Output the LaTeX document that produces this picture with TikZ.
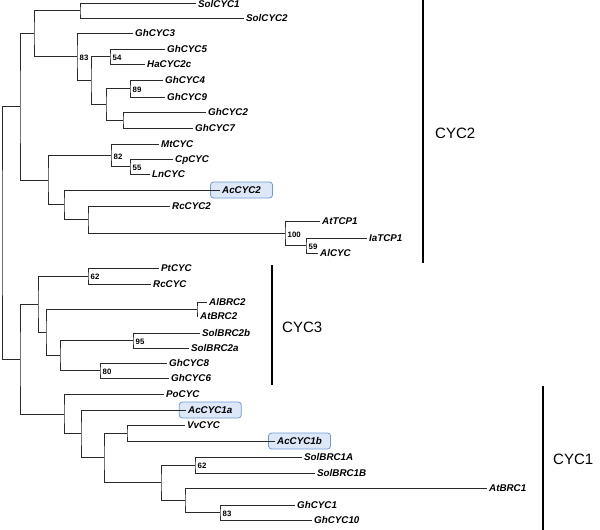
\documentclass[tikz,border=0pt]{standalone}
\usepackage{fontspec}
\setmainfont{Liberation Sans}
\usetikzlibrary{backgrounds}
\definecolor{hlfill}{HTML}{DCE8F7}
\definecolor{hldraw}{HTML}{6F9BD3}
\definecolor{brc}{HTML}{2A2A2A}
\tikzset{
 br/.style={draw=brc, line width=0.9pt},
 leaf/.style={anchor=west, inner sep=0pt, inner xsep=2pt, font=\fontsize{9.8}{10}\selectfont\bfseries\itshape, text height=7pt, text depth=0pt},
 boot/.style={anchor=west, inner sep=0pt, inner xsep=2.5pt, yshift=-1pt, font=\fontsize{7.8}{8}\selectfont\bfseries, text height=5.6pt, text depth=0pt},
 hl/.style={draw=hldraw, fill=hlfill, rounded corners=3pt, line width=0.8pt, minimum width=62pt, minimum height=16pt, inner sep=0pt},
 cladebar/.style={line width=2.7pt, draw=black},
 cladelbl/.style={anchor=west, font=\fontsize{15}{16}\selectfont, inner sep=0pt},
}
\begin{document}
\begin{tikzpicture}[x=1pt,y=-1pt]
\useasboundingbox (0,0) rectangle (600,530);
% leaves
\node[leaf] (l1) at (196,3.5) {SolCYC1};
\node[leaf] (l2) at (244,18) {SolCYC2};
\node[leaf] (l3) at (133,33) {GhCYC3};
\node[leaf] (l4) at (165,49) {GhCYC5};
\node[leaf] (l5) at (145,64) {HaCYC2c};
\node[leaf] (l6) at (163,80) {GhCYC4};
\node[leaf] (l7) at (165,97) {GhCYC9};
\node[leaf] (l8) at (206,112) {GhCYC2};
\node[leaf] (l9) at (193,128) {GhCYC7};
\node[leaf] (l10) at (159,144) {MtCYC};
\node[leaf] (l11) at (173,159) {CpCYC};
\node[leaf] (l12) at (150,174) {LnCYC};
\node[leaf] (l13) at (220,190) {AcCYC2};
\node[leaf] (l14) at (170,206) {RcCYC2};
\node[leaf] (l15) at (320,221) {AtTCP1};
\node[leaf] (l16) at (367,238) {IaTCP1};
\node[leaf] (l17) at (318,253) {AlCYC};
\node[leaf] (l18) at (159,268) {PtCYC};
\node[leaf] (l19) at (151,284) {RcCYC};
\node[leaf] (l20) at (207,302) {AlBRC2};
\node[leaf] (l21) at (198,316) {AtBRC2};
\node[leaf] (l22) at (200,333) {SolBRC2b};
\node[leaf] (l23) at (189,348) {SolBRC2a};
\node[leaf] (l24) at (167,363) {GhCYC8};
\node[leaf] (l25) at (169,378) {GhCYC6};
\node[leaf] (l26) at (164,394) {PoCYC};
\node[leaf] (l27) at (186,410) {AcCYC1a};
\node[leaf] (l28) at (185,425) {VvCYC};
\node[leaf] (l29) at (275,441) {AcCYC1b};
\node[leaf] (l30) at (302,457) {SolBRC1A};
\node[leaf] (l31) at (315,473) {SolBRC1B};
\node[leaf] (l32) at (487,488) {AtBRC1};
\node[leaf] (l33) at (295,505) {GhCYC1};
\node[leaf] (l34) at (312,520) {GhCYC10};
% highlight boxes
\begin{scope}[on background layer]
\node[hl] (h13) at (l13.center) {};
\node[hl] (h27) at (l27.center) {};
\node[hl] (h29) at (l29.center) {};
\end{scope}
% internal nodes
\coordinate (nA) at (80,10.75);
\coordinate (n54) at (110,56.5);
\coordinate (n89) at (130,88.5);
\coordinate (n27) at (123,120);
\coordinate (n106) at (106,104.25);
\coordinate (n91) at (91,80.4);
\coordinate (n83) at (77,56.7);
\coordinate (n34) at (34,33.7);
\coordinate (n55) at (130,166.5);
\coordinate (n82) at (111,155.25);
\coordinate (n59) at (306,245.5);
\coordinate (n100) at (285,233.25);
\coordinate (n88) at (88,219.6);
\coordinate (n64) at (64,204.8);
\coordinate (n48) at (48,180);
\coordinate (n20a) at (20,106.8);
\coordinate (n62) at (88,276);
\coordinate (nAl) at (197,309);
\coordinate (n95) at (133,340.5);
\coordinate (n80) at (100,370.5);
\coordinate (n60) at (60,355.5);
\coordinate (n46) at (46,332.25);
\coordinate (n38) at (38,304.1);
\coordinate (n127) at (127,433);
\coordinate (n62b) at (195,465);
\coordinate (n83b) at (220,512.5);
\coordinate (n185) at (185,500.25);
\coordinate (n161) at (161,482.6);
\coordinate (n104) at (104,457.8);
\coordinate (n81) at (81,433.9);
\coordinate (n64b) at (64,413.95);
\coordinate (n20b) at (20,359);
\coordinate (root) at (2,232.9);
% branches
\draw[br] (l1.west) -| (nA) |- (l2.west);
\draw[br] (l4.west) -| (n54) |- (l5.west);
\draw[br] (l6.west) -| (n89) |- (l7.west);
\draw[br] (l8.west) -| (n27) |- (l9.west);
\draw[br] (n89) -| (n106) |- (n27);
\draw[br] (n54) -| (n91) |- (n106);
\draw[br] (l3.west) -| (n83) |- (n91);
\draw[br] (nA) -| (n34) |- (n83);
\draw[br] (l11.west) -| (n55) |- (l12.west);
\draw[br] (l10.west) -| (n82) |- (n55);
\draw[br] (l16.west) -| (n59) |- (l17.west);
\draw[br] (l15.west) -| (n100) |- (n59);
\draw[br] (l14.west) -| (n88) |- (n100);
\draw[br] (l13.west) -| (n64) |- (n88);
\draw[br] (n82) -| (n48) |- (n64);
\draw[br] (n34) -| (n20a) |- (n48);
\draw[br] (l18.west) -| (n62) |- (l19.west);
\draw[br] (l20.west) -| (nAl) |- (l21.west);
\draw[br] (l22.west) -| (n95) |- (l23.west);
\draw[br] (l24.west) -| (n80) |- (l25.west);
\draw[br] (n95) -| (n60) |- (n80);
\draw[br] (nAl) -| (n46) |- (n60);
\draw[br] (n62) -| (n38) |- (n46);
\draw[br] (l28.west) -| (n127) |- (l29.west);
\draw[br] (l30.west) -| (n62b) |- (l31.west);
\draw[br] (l33.west) -| (n83b) |- (l34.west);
\draw[br] (l32.west) -| (n185) |- (n83b);
\draw[br] (n62b) -| (n161) |- (n185);
\draw[br] (n127) -| (n104) |- (n161);
\draw[br] (l27.west) -| (n81) |- (n104);
\draw[br] (l26.west) -| (n64b) |- (n81);
\draw[br] (n38) -| (n20b) |- (n64b);
\draw[br] (n20a) -| (root) |- (n20b);
% bootstrap values
\node[boot] (b83) at (n83) {83};
\node[boot] (b54) at (n54) {54};
\node[boot] (b89) at (n89) {89};
\node[boot] (b82) at (n82) {82};
\node[boot] (b55) at (n55) {55};
\node[boot] (b100) at (n100) {100};
\node[boot] (b59) at (n59) {59};
\node[boot] (b62) at (n62) {62};
\node[boot] (b95) at (n95) {95};
\node[boot] (b80) at (n80) {80};
\node[boot] (b62b) at (n62b) {62};
\node[boot] (b83b) at (n83b) {83};
% clade bars
\coordinate (c2t) at (423,0);
\coordinate (c2b) at (423,263);
\coordinate (c3t) at (272,265);
\coordinate (c3b) at (272,385);
\coordinate (c1t) at (543,386);
\coordinate (c1b) at (543,530);
\draw[cladebar] (c2t) -- (c2b);
\draw[cladebar] (c3t) -- (c3b);
\draw[cladebar] (c1t) -- (c1b);
\node[cladelbl] (cyc2) at (435,133) {CYC2};
\node[cladelbl] (cyc3) at (282,327) {CYC3};
\node[cladelbl] (cyc1) at (553,459) {CYC1};
\end{tikzpicture}
\end{document}
